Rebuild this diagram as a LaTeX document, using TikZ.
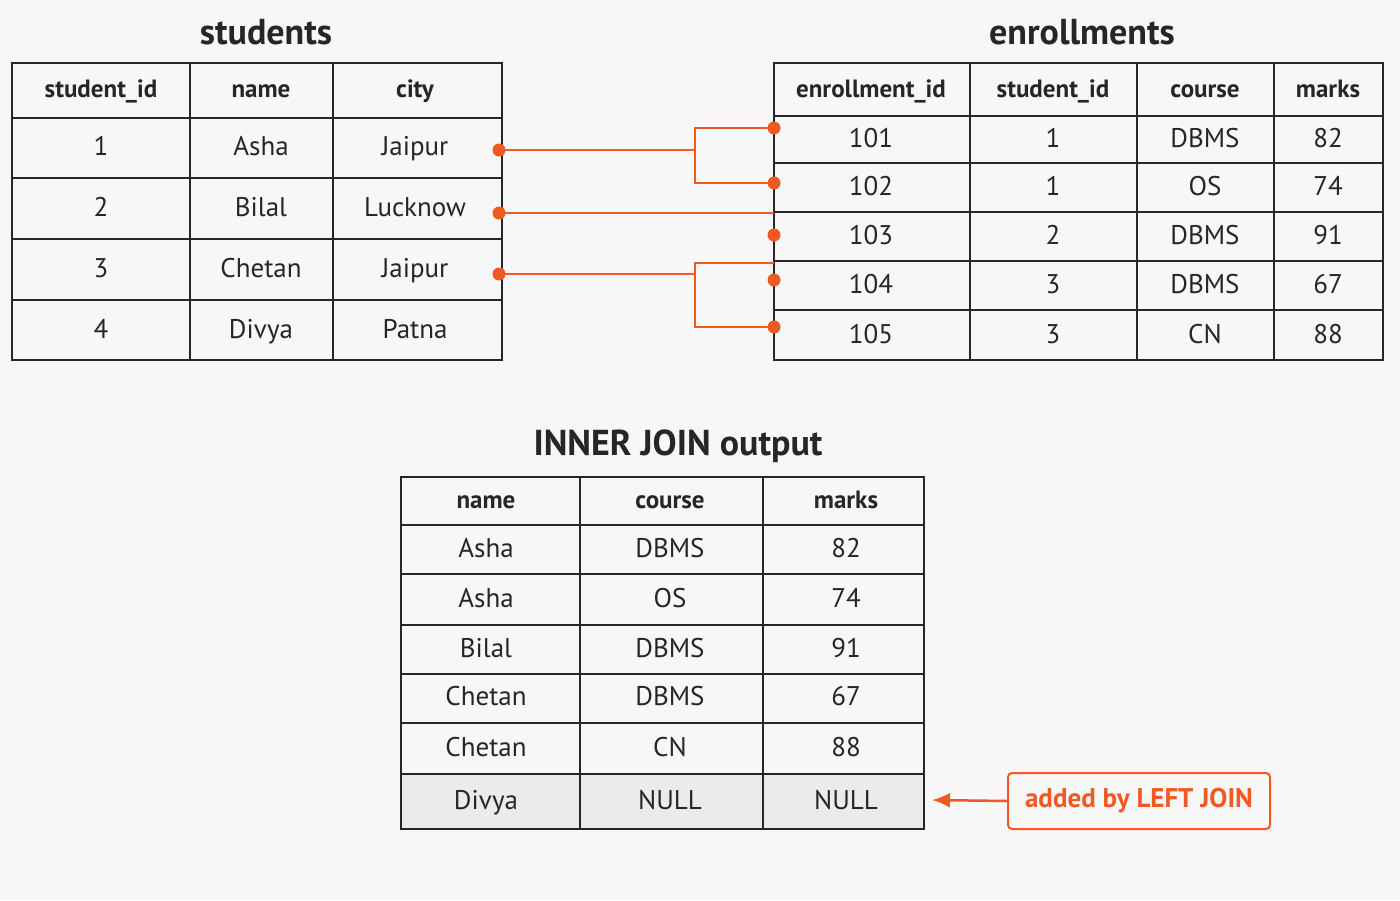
\documentclass[tikz,border=0pt]{standalone}
\usepackage{fontspec}
\setmainfont{PT Sans}
\usetikzlibrary{arrows.meta}
\begin{document}
\begin{tikzpicture}[x=1pt,y=-1pt,
  grid/.style={draw=black!85,line width=1.6pt},
  cell/.style={font=\fontsize{27}{29}\selectfont,text=black!85,text height=19pt,text depth=5pt},
  head/.style={font=\bfseries\fontsize{25}{27}\selectfont,text=black!85,text height=18pt,text depth=5pt},
  ttl/.style={font=\bfseries\fontsize{36}{38}\selectfont,text=black!85},
  conn/.style={draw=orange1,line width=2pt},
  dot/.style={circle,fill=orange1,inner sep=0pt,minimum size=13pt}]
\definecolor{orange1}{HTML}{F05A22}
\fill[white!97!black] (0,0) rectangle (1400,900);
% students
\node[ttl] (ts) at (266,32) {students};
\draw[grid] (12,63) rectangle (502,360);
\foreach \y in {118,178,239,300} \draw[grid] (12,\y) -- (502,\y);
\foreach \x in {190,333} \draw[grid] (\x,63) -- (\x,360);
\foreach \t/\x in {student\_id/101,name/261,city/415} \node[head] at (\x,91) {\t};
\foreach \a/\b/\c/\y in {1/Asha/Jaipur/148,2/Bilal/Lucknow/209,3/Chetan/Jaipur/270,4/Divya/Patna/331}{
  \node[cell] at (101,\y) {\a}; \node[cell] at (261,\y) {\b}; \node[cell] at (415,\y) {\c};}
% enrollments
\node[ttl] (te) at (1082,32) {enrollments};
\draw[grid] (774,63) rectangle (1383,360);
\foreach \y in {116,163,212,261,310} \draw[grid] (774,\y) -- (1383,\y);
\foreach \x in {970,1137,1274} \draw[grid] (\x,63) -- (\x,360);
\foreach \t/\x in {enrollment\_id/871,student\_id/1053,course/1205,marks/1328} \node[head] at (\x,91) {\t};
\foreach \a/\b/\c/\d/\y in {101/1/DBMS/82/140,102/1/OS/74/188,103/2/DBMS/91/237,104/3/DBMS/67/286,105/3/CN/88/336}{
  \node[cell] at (871,\y) {\a}; \node[cell] at (1053,\y) {\b}; \node[cell] at (1205,\y) {\c}; \node[cell] at (1328,\y) {\d};}
% connectors
\node[dot] (s1) at (499,150) {}; \node[dot] (s2) at (499,213) {}; \node[dot] (s3) at (499,274) {};
\node[dot] (e1) at (774,128) {}; \node[dot] (e2) at (774,183) {}; \node[dot] (e3) at (774,235) {};
\node[dot] (e4) at (774,280) {}; \node[dot] (e5) at (774,327) {};
\coordinate (e2b) at (774,213); \coordinate (e4b) at (774,263);
\draw[conn] (s1.center) -- (695,150);
\draw[conn] (e1.center) -| (695,183) -- (e2.center);
\draw[conn] (s2.center) -- (e2b);
\draw[conn] (s3.center) -- (695,274);
\draw[conn] (e4b) -| (695,327) -- (e5.center);
% output
\node[ttl] (to) at (678,446) {INNER JOIN output};
\fill[black!8] (401,774) rectangle (924,829);
\draw[grid] (401,477) rectangle (924,829);
\foreach \y in {525,574,625,674,723,774} \draw[grid] (401,\y) -- (924,\y);
\foreach \x in {580,763} \draw[grid] (\x,477) -- (\x,829);
\foreach \t/\x in {name/486,course/670,marks/846} \node[head] at (\x,502) {\t};
\foreach \a/\b/\c/\y in {Asha/DBMS/82/550,Asha/OS/74/600,Bilal/DBMS/91/650,Chetan/DBMS/67/698,Chetan/CN/88/749,Divya/NULL/NULL/802}{
  \node[cell] at (486,\y) {\a}; \node[cell] at (670,\y) {\b}; \node[cell] at (846,\y) {\c};}
\coordinate (rowend) at (932,800);
\node[draw=orange1,line width=2pt,rounded corners=4pt,minimum width=262pt,minimum height=56pt,
  font=\bfseries\fontsize{27}{29}\selectfont,text=orange1] (lbl) at (1139,801) {added by LEFT JOIN};
\draw[conn,line width=2.5pt,-{Latex[length=18pt,width=15pt]}] (lbl.west) -- (rowend);
\end{tikzpicture}
\end{document}
